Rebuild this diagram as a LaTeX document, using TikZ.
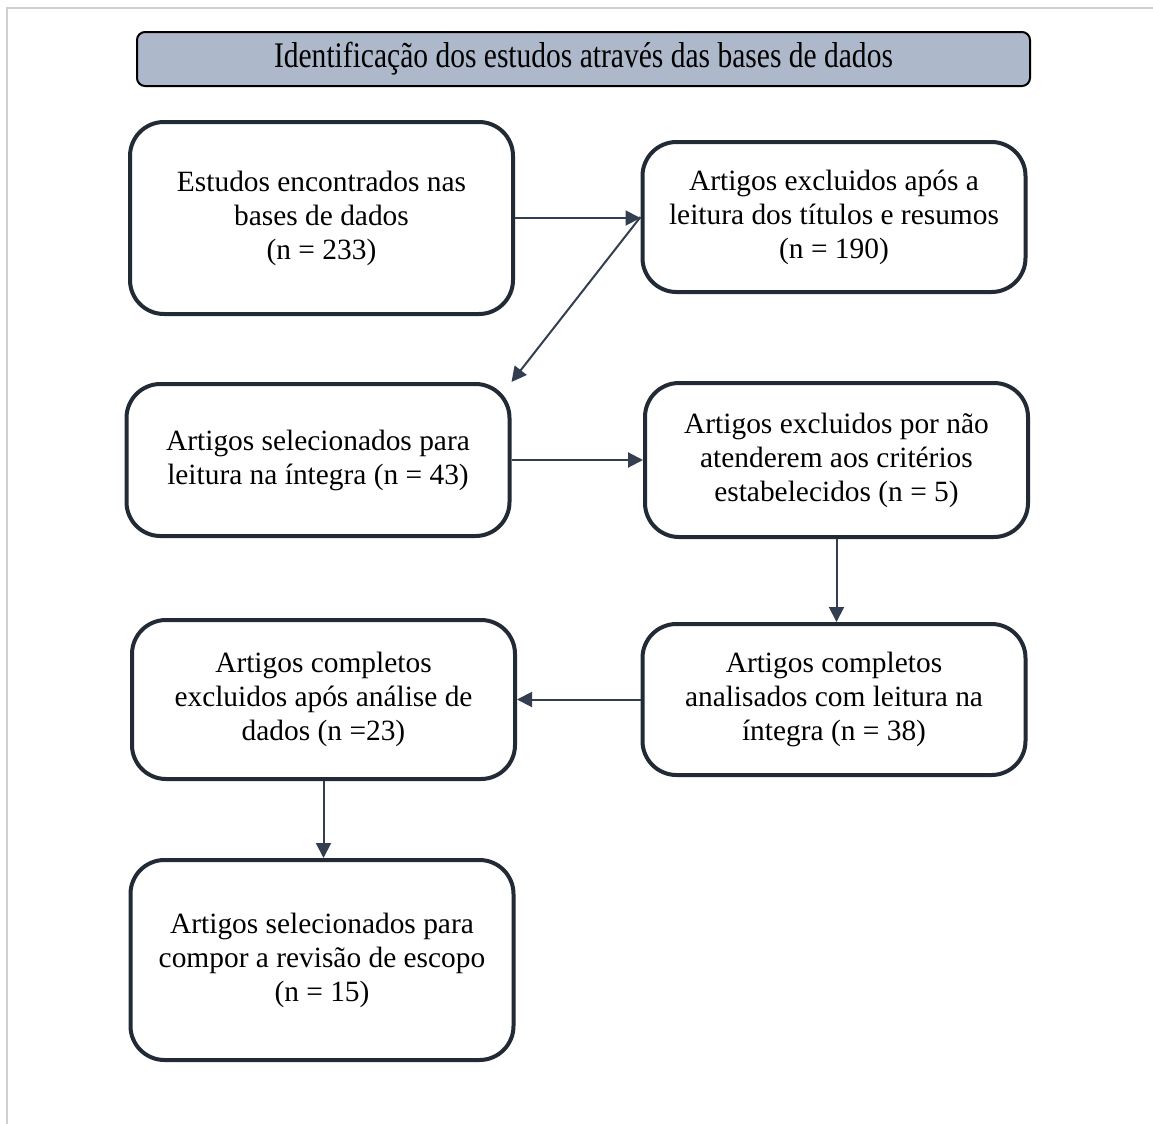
\documentclass[tikz,border=0pt]{standalone}
\usepackage{fontspec}
\setmainfont{Liberation Serif}
\usepackage{xcolor}
\usepackage{graphicx}
\usetikzlibrary{arrows.meta, positioning}

\definecolor{boxline}{HTML}{222A35}
\definecolor{arrowline}{HTML}{333F50}
\definecolor{headfill}{HTML}{ADB9CA}
\definecolor{pageedge}{HTML}{D0D0D0}

\begin{document}
\begin{tikzpicture}[
    x=0.5pt, y=-0.5pt,
    every node/.style={font=\fontsize{14.7}{17}\selectfont},
    box/.style={draw=boxline, line width=2pt, rounded corners=17pt, minimum width=191.5pt, text centered, align=center, fill=white},
    head/.style={draw=black, line width=1pt, rounded corners=4pt, fill=headfill, minimum width=446.5pt, minimum height=27pt, text centered},
    arrow/.style={-{Triangle[length=7.5pt, width=7.5pt]}, line width=1pt, arrowline},
]
\useasboundingbox (0,0) rectangle (1153,1124);

% === page edge ===
\draw[pageedge, line width=1.2pt] (7,1124) -- (7,8) -- (1153,8);

% === header ===
\node[head, inner sep=0pt] (title) at (583.5,59) {\raisebox{-1.5pt}{\scalebox{0.82}[1]{\fontsize{18}{20}\selectfont Identificação dos estudos através das bases de dados}}};

% === left / right columns ===
\node[box, minimum height=96pt] (found) at (321.5,218) {Estudos encontrados nas\\bases de dados\\(n = 233)};
\node[box, minimum height=75pt] (excl1) at (834,217) {Artigos excluidos após a\\leitura dos títulos e resumos\\(n = 190)};

\node[box, minimum height=76pt] (sel) at (318,460) {Artigos selecionados para\\leitura na íntegra (n = 43)};
\node[box, minimum height=77pt] (excl2) at (836.5,460) {Artigos excluidos por não\\atenderem aos critérios\\estabelecidos (n = 5)};

\node[box, minimum height=75.5pt] (full) at (834,699.5) {Artigos completos\\analisados com leitura na\\íntegra (n = 38)};
\node[box, minimum height=79.5pt] (excl3) at (323.5,699.5) {Artigos completos\\excluidos após análise de\\dados (n =23)};

\node[box, minimum height=100pt] (final) at (322,960) {Artigos selecionados para\\compor a revisão de escopo\\(n = 15)};

% === connectors ===
\draw[arrow] (found.east) -- (found.east -| excl1.west);
\draw[arrow] (excl1.west) -- (sel.north east);
\draw[arrow] (sel.east) -- (excl2.west);
\draw[arrow] (excl2.south) -- (excl2.south |- full.north);
\draw[arrow] (full.west) -- (excl3.east);
\draw[arrow] (excl3.south) -- (excl3.south |- final.north);

\end{tikzpicture}
\end{document}
